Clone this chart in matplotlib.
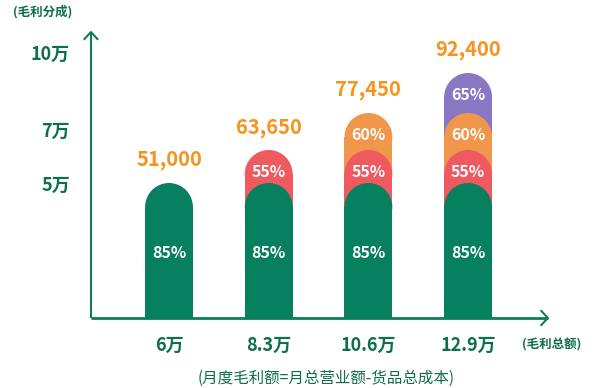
"""Stacked rounded-bar infographic: 毛利分成 by 毛利总额 tier."""

import matplotlib

matplotlib.use("Agg")
import matplotlib.pyplot as plt
from matplotlib.patches import Ellipse, Rectangle

plt.rcParams["font.family"] = ["Noto Sans CJK SC", "DejaVu Sans"]

# --- data -----------------------------------------------------------------
X_LABELS = ["6万", "8.3万", "10.6万", "12.9万"]
TOTALS = ["51,000", "63,650", "77,450", "92,400"]
LAYER_PCT = ["85%", "55%", "60%", "65%"]
# visual top of each stacked layer (infographic scale, not proportional)
LAYER_TOP = [135, 168, 205, 245]
N_LAYERS = [1, 2, 3, 4]  # bar i shows the first N layers
Y_TICKS = [133, 187, 264]
Y_LABELS = ["5万", "7万", "10万"]

LAYER_COLORS = ["#06805f", "#ee5a60", "#f1974b", "#8878c3"]
AXIS_GREEN = "#0b7d5a"
TEXT_GREEN = "#0f6e4b"
VALUE_ORANGE = "#f7931e"

BAR_W = 0.48   # in category units
RADIUS = 24    # y units (== px here)


def rounded_bar(ax, x, top, color):
    ax.add_patch(Rectangle((x - BAR_W / 2, 0), BAR_W, top - RADIUS,
                           facecolor=color, edgecolor="none", zorder=2))
    ax.add_patch(Ellipse((x, top - RADIUS), BAR_W, 2 * RADIUS,
                         facecolor=color, edgecolor="none", zorder=2))


def main() -> None:
    fig = plt.figure(figsize=(6.0, 3.88), dpi=100)
    ax = fig.add_axes((0, 0, 1, 1))
    ax.set_xlim(-1.695, 4.323)
    ax.set_ylim(-70, 318)
    ax.axis("off")

    y_axis_x = -0.783
    x_axis_end = 3.80

    for i, n in enumerate(N_LAYERS):
        # draw from topmost layer down so lower domes overlap higher ones
        for k in reversed(range(n)):
            rounded_bar(ax, i, LAYER_TOP[k], LAYER_COLORS[k])
            ty = 65 if k == 0 else LAYER_TOP[k] - 22
            ax.text(i, ty, LAYER_PCT[k], ha="center", va="center",
                    color="white", fontsize=11.5, fontweight="bold", zorder=3)
        ax.text(i, LAYER_TOP[n - 1] + 23, TOTALS[i], ha="center", va="center",
                color=VALUE_ORANGE, fontsize=14.5, fontweight="bold", zorder=3)
        ax.text(i, -27, X_LABELS[i], ha="center", va="center",
                color=TEXT_GREEN, fontsize=13, fontweight="bold")

    # axes with chevron arrow heads
    ax.plot([y_axis_x, y_axis_x], [0, 286], color=AXIS_GREEN, lw=1.5,
            solid_capstyle="butt", zorder=4)
    ax.plot([y_axis_x - 0.065, y_axis_x, y_axis_x + 0.065], [279, 286, 279],
            color=AXIS_GREEN, lw=1.5, zorder=4)
    ax.plot([y_axis_x, x_axis_end], [0, 0], color=AXIS_GREEN, lw=2,
            solid_capstyle="butt", zorder=4)
    ax.plot([x_axis_end - 0.065, x_axis_end, x_axis_end - 0.065], [7, 0, -7],
            color=AXIS_GREEN, lw=1.5, zorder=4)

    for yt, lab in zip(Y_TICKS, Y_LABELS):
        ax.text(y_axis_x - 0.21, yt, lab, ha="right", va="center",
                color=TEXT_GREEN, fontsize=13, fontweight="bold")

    ax.text(-1.56, 306, "(毛利分成)", ha="left", va="center",
            color=TEXT_GREEN, fontsize=9, fontweight="bold")
    ax.text(3.54, -27, "(毛利总额)", ha="left", va="center",
            color=TEXT_GREEN, fontsize=9, fontweight="bold")
    ax.text(1.58, -60, "(月度毛利额=月总营业额-货品总成本)", ha="center",
            va="center", color=TEXT_GREEN, fontsize=11.2)

    fig.savefig("out.png", dpi=100)
    plt.close(fig)


if __name__ == "__main__":
    main()
